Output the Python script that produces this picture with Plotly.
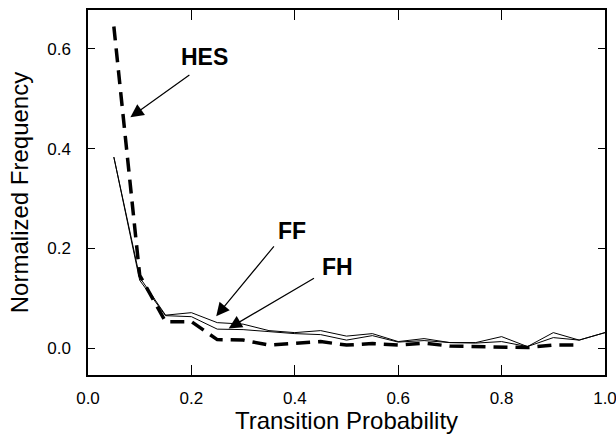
import plotly.graph_objects as go

x_ff = [0.05, 0.10, 0.15, 0.20, 0.25, 0.30, 0.35, 0.40, 0.45, 0.50,
        0.55, 0.60, 0.65, 0.70, 0.75, 0.80, 0.85, 0.90, 0.95, 1.00]
ff = [0.383, 0.142, 0.066, 0.071, 0.051, 0.048, 0.035, 0.031, 0.035, 0.024,
      0.029, 0.013, 0.019, 0.011, 0.011, 0.023, 0.003, 0.031, 0.016, 0.031]
fh = [0.383, 0.136, 0.065, 0.063, 0.038, 0.037, 0.033, 0.029, 0.027, 0.016,
      0.025, 0.012, 0.015, 0.011, 0.010, 0.013, 0.003, 0.021, 0.016, 0.031]
x_hes = [0.05, 0.10, 0.15, 0.20, 0.25, 0.30, 0.35, 0.40, 0.45, 0.50,
         0.55, 0.60, 0.65, 0.70, 0.75, 0.80, 0.85, 0.90, 0.95]
hes = [0.645, 0.146, 0.053, 0.053, 0.017, 0.016, 0.006, 0.010, 0.013, 0.006,
       0.009, 0.006, 0.010, 0.004, 0.003, 0.001, 0.001, 0.006, 0.006]

x_ticks = [0.0, 0.2, 0.4, 0.6, 0.8, 1.0]
y_ticks = [0.0, 0.2, 0.4, 0.6]

fig = go.Figure()
fig.add_trace(go.Scatter(x=x_ff, y=ff, mode="lines", name="FF",
                         line=dict(color="black", width=1)))
fig.add_trace(go.Scatter(x=x_ff, y=fh, mode="lines", name="FH",
                         line=dict(color="black", width=1)))
fig.add_trace(go.Scatter(x=x_hes, y=hes, mode="lines", name="HES",
                         line=dict(color="black", width=3.5, dash="14px,8px")))

font = "Liberation Sans, Arial, sans-serif"
labels = [
    # text, text_x, text_y, tip_x, tip_y, tail_x, tail_y
    ("HES", 0.225, 0.583, 0.082, 0.463, 0.199, 0.55),
    ("FF", 0.394, 0.235, 0.248, 0.064, 0.362, 0.207),
    ("FH", 0.482, 0.163, 0.272, 0.0395, 0.44, 0.142),
]
for t, tx, ty, px, py, qx, qy in labels:
    fig.add_annotation(x=tx, y=ty, text="<b>%s</b>" % t, showarrow=False,
                       font=dict(family=font, size=23, color="black"))
    fig.add_annotation(x=px, y=py, ax=qx, ay=qy, axref="x", ayref="y",
                       text="", showarrow=True, arrowhead=2, arrowsize=2.2,
                       arrowwidth=1.2, arrowcolor="black")

axis_common = dict(showline=True, linecolor="black", linewidth=1.5,
                   mirror="ticks", ticks="inside", tickcolor="black",
                   tickwidth=1.2, showgrid=False, zeroline=False,
                   tickformat=".1f", automargin=False,
                   ticklabeloverflow="allow",
                   tickfont=dict(family=font, size=17, color="black"),
                   title_font=dict(family=font, size=24, color="black"))

fig.update_xaxes(range=[0, 1.0], tickvals=x_ticks, ticklen=10,
                 ticklabelstandoff=7,
                 title_text="Transition Probability", title_standoff=10,
                 **axis_common)
fig.update_yaxes(range=[-0.054, 0.678], tickvals=y_ticks, ticklen=7,
                 ticklabelstandoff=12,
                 title_text="Normalized Frequency", title_standoff=12,
                 **axis_common)

fig.update_layout(width=616, height=434, showlegend=False,
                  paper_bgcolor="white", plot_bgcolor="white",
                  margin=dict(l=88, r=11, t=10, b=59))

fig.write_html("out.html", config={"displayModeBar": False},
               post_script="document.body.style.margin='0';"
                           "document.body.style.overflow='hidden';")
